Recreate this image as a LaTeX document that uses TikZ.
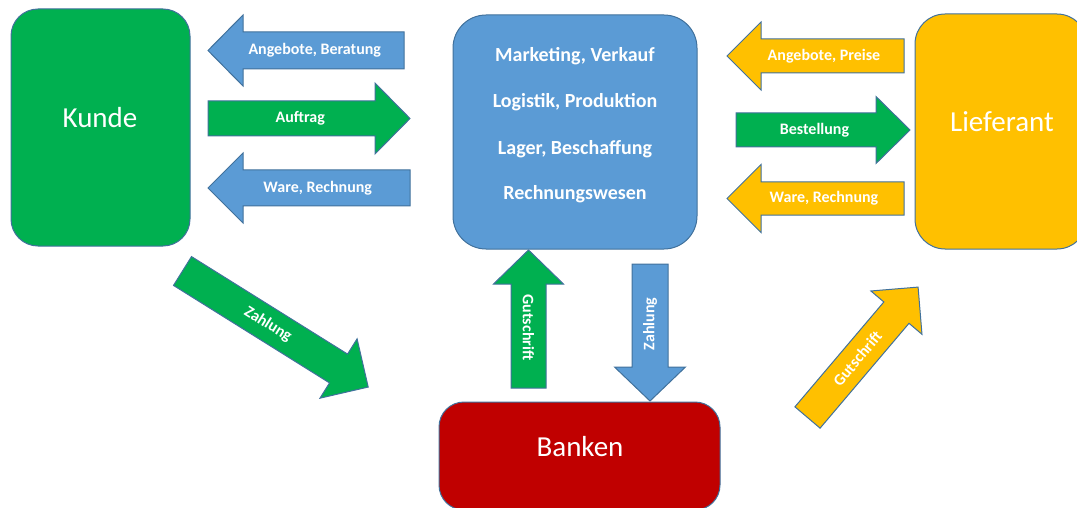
\documentclass[tikz,border=0pt]{standalone}
\usepackage{fontspec}
\setmainfont{Carlito}

\definecolor{kgreen}{HTML}{00B050}
\definecolor{kblue}{HTML}{5B9BD5}
\definecolor{kyellow}{HTML}{FFC000}
\definecolor{kred}{HTML}{C00000}
\definecolor{edge}{HTML}{41719C}

\tikzset{
  box/.style={rectangle, draw=edge, line width=1pt, inner sep=0pt},
  bigtext/.style={text=white, font=\fontsize{29}{34}\selectfont, anchor=base, inner sep=0pt},
  midtext/.style={text=white, font=\bfseries\fontsize{20}{24}\selectfont, anchor=base, inner sep=0pt},
  arrowtext/.style={text=white, font=\bfseries\fontsize{16}{19}\selectfont, inner sep=0pt},
  arrowbody/.style={draw=edge, line width=1pt, line join=miter},
}

% block arrow: #1 fill, #2 tail centre, #3 direction, #4 length,
% #5 shaft width, #6 head width, #7 head length, #8 text angle, #9 text
\newcommand{\blockarrow}[9]{%
  \begin{scope}[shift={#2}, rotate=#3]
    \filldraw[arrowbody, fill=#1]
      (0,{-#5/2}) -- ({#4-#7},{-#5/2}) -- ({#4-#7},{-#6/2}) -- (#4,0)
      -- ({#4-#7},{#6/2}) -- ({#4-#7},{#5/2}) -- (0,{#5/2}) -- cycle;
    \node[arrowtext, rotate=#8] at ({(#4-#7/2)/2},0) {#9};
  \end{scope}}

\begin{document}
\begin{tikzpicture}[x=1pt, y=-1pt]
  \useasboundingbox (0,0) rectangle (1077,508);
  \clip (0,0) rectangle (1077,508);

  % parties
  \node[box, fill=kgreen, minimum width=179pt, minimum height=237pt, rounded corners=27pt] (kunde) at (100.5,127.5) {};
  \node[bigtext] (kundeT) at (100,128) {Kunde};

  \node[box, fill=kblue, minimum width=244pt, minimum height=234pt, rounded corners=33pt] (firma) at (575,132) {};
  \node[midtext] (f1) at (575,62) {Marketing, Verkauf};
  \node[midtext] (f2) at (575,108) {Logistik, Produktion};
  \node[midtext] (f3) at (575,155) {Lager, Beschaffung};
  \node[midtext] (f4) at (575,200) {Rechnungswesen};

  \node[box, fill=kyellow, minimum width=172pt, minimum height=235pt, rounded corners=30pt] (lief) at (1001,131.5) {};
  \node[bigtext] (liefT) at (1002,131.5) {Lieferant};

  \node[box, fill=kred, minimum width=281pt, minimum height=108pt, rounded corners=25pt] (bank) at (579.5,456) {};
  \node[bigtext] (bankT) at (580,456) {Banken};

  % flows between customer and company
  \blockarrow{kblue}{(404,50.5)}{180}{196}{37}{71}{35}{0}{Angebote, Beratung}
  \blockarrow{kgreen}{(208,118.5)}{0}{202}{35}{71}{35}{0}{Auftrag}
  \blockarrow{kblue}{(410,188)}{180}{202}{36}{70}{35}{0}{Ware, Rechnung}

  % flows between company and supplier
  \blockarrow{kyellow}{(904,56)}{180}{177}{34}{68}{34}{0}{Angebote, Preise}
  \blockarrow{kgreen}{(736,130)}{0}{174}{34}{67}{34}{0}{Bestellung}
  \blockarrow{kyellow}{(904,198.5)}{180}{177}{33}{68}{34}{0}{Ware, Rechnung}

  % flows through the banks
  \blockarrow{kgreen}{(528.5,388)}{90}{138}{35}{70}{34}{-90}{Gutschrift}
  \blockarrow{kblue}{(650,264)}{-90}{137}{36}{71}{34}{90}{Zahlung}
  \blockarrow{kgreen}{(182.5,271)}{-32}{219}{34}{70}{35}{-32}{Zahlung}
  \blockarrow{kyellow}{(807.5,417.5)}{49.7}{171}{33}{67}{33.5}{49.7}{Gutschrift}
\end{tikzpicture}
\end{document}
